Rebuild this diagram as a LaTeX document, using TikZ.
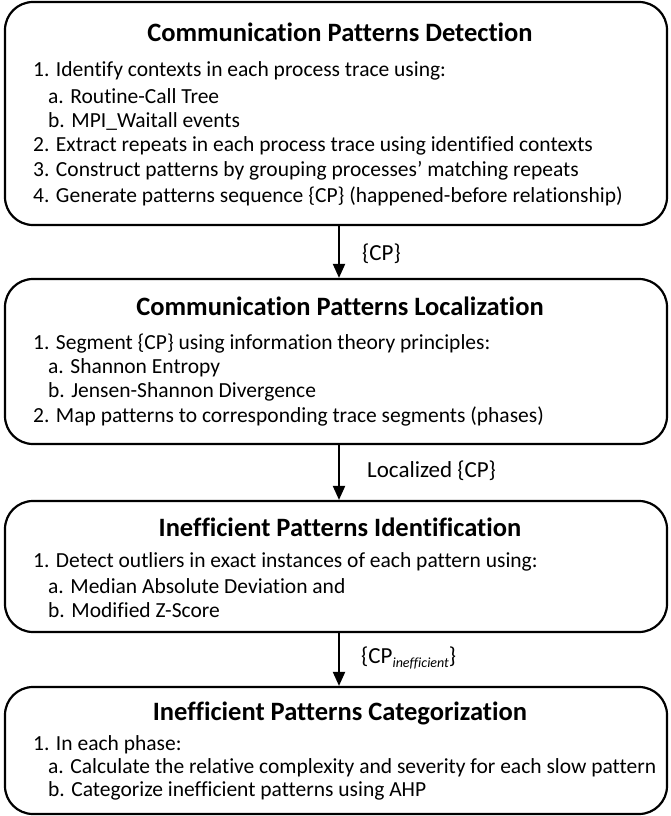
\documentclass[tikz,border=0pt]{standalone}
\usepackage{fontspec}
\setmainfont{Carlito}[Ligatures=NoCommon]
\usetikzlibrary{arrows.meta}
\tikzset{
  box/.style={draw, line width=2.2pt, rounded corners=28pt, minimum width=662pt, inner sep=0pt},
  ttl/.style={font=\fontsize{26.5}{30}\selectfont\bfseries, inner sep=0pt},
  txt/.style={font=\fontsize{21.5}{26}\selectfont, anchor=west, inner sep=0pt},
  lbl/.style={font=\fontsize{23}{26}\selectfont, anchor=west, inner sep=0pt},
  arr/.style={line width=2pt, -{Triangle[length=14pt,width=12pt]}}
}
\begin{document}
\begin{tikzpicture}[x=1pt,y=1pt]
\useasboundingbox (0,0) rectangle (670,-816);
% boxes
\node[box, minimum height=223pt] (b1) at (336,-113.5) {};
\node[box, minimum height=165pt] (b2) at (336,-361.5) {};
\node[box, minimum height=131pt] (b3) at (336,-566.5) {};
\node[box, minimum height=127pt] (b4) at (336,-750.5) {};
% box 1
\node[ttl] (t1) at (340,-32) {Communication Patterns Detection};
\node[txt] (l11) at (33,-71) {1. Identify contexts in each process trace using:};
\node[txt] (l12) at (48,-96) {a. Routine-Call Tree};
\node[txt] (l13) at (48,-121) {b. MPI\_Waitall events};
\node[txt] (l14) at (33,-146) {2. Extract repeats in each process trace using identified contexts};
\node[txt] (l15) at (33,-171) {3. Construct patterns by grouping processes’ matching repeats};
\node[txt] (l16) at (33,-196) {4. Generate patterns sequence \{CP\} (happened-before relationship)};
% box 2
\node[ttl] (t2) at (340,-306) {Communication Patterns Localization};
\node[txt] (l21) at (33,-344) {1. Segment \{CP\} using information theory principles:};
\node[txt] (l22) at (48,-368) {a. Shannon Entropy};
\node[txt] (l23) at (48,-392) {b. Jensen-Shannon Divergence};
\node[txt] (l24) at (33,-416) {2. Map patterns to corresponding trace segments (phases)};
% box 3
\node[ttl] (t3) at (340,-527) {Inefficient Patterns Identification};
\node[txt] (l31) at (33,-562) {1. Detect outliers in exact instances of each pattern using:};
\node[txt] (l32) at (48,-586) {a. Median Absolute Deviation and};
\node[txt] (l33) at (48,-610) {b. Modified Z-Score};
% box 4
\node[ttl] (t4) at (340,-713) {Inefficient Patterns Categorization};
\node[txt] (l41) at (33,-745) {1. In each phase:};
\node[txt] (l42) at (48,-768) {a. Calculate the relative complexity and severity for each slow pattern};
\node[txt] (l43) at (48,-791) {b. Categorize inefficient patterns using AHP};
% arrows
\draw[arr] ([xshift=3pt]b1.south) -- ([xshift=3pt]b2.north);
\draw[arr] ([xshift=3pt]b2.south) -- ([xshift=3pt]b3.north);
\draw[arr] ([xshift=3pt]b3.south) -- ([xshift=3pt]b4.north);
\node[lbl] (a1) at (362,-254) {\{CP\}};
\node[lbl] (a2) at (367,-471) {Localized \{CP\}};
\node[lbl] (a3) at (361,-658) {\{CP\raisebox{-0.35ex}{\fontsize{14}{14}\selectfont\itshape inefficient}\}};
\end{tikzpicture}
\end{document}
